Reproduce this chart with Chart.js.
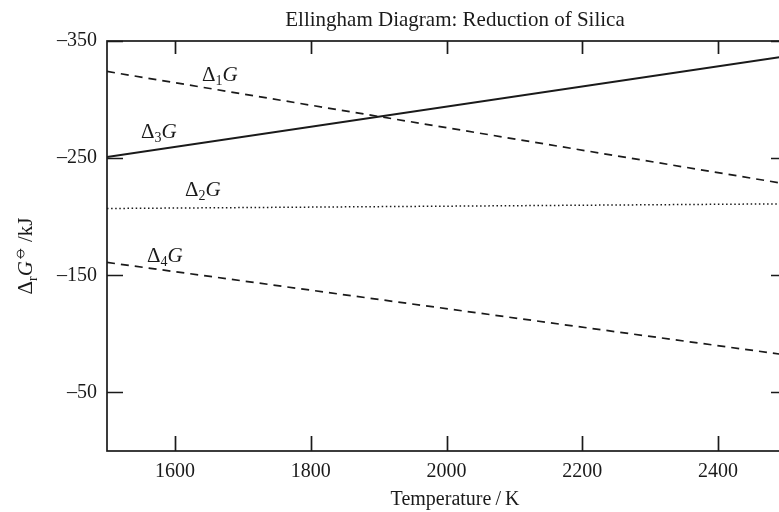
<!DOCTYPE html>
<html>
<head>
<meta charset="utf-8">
<script src="https://cdn.jsdelivr.net/npm/chart.js@4"></script>
<style>
  html, body { margin: 0; padding: 0; background: #fff; overflow: hidden; }
  canvas { display: block; }
</style>
</head>
<body>
<canvas id="ellingham" width="800" height="512"></canvas>
<script>
// Temperatures (K) at the ends of each line
const temps = [1500, 2500];

// Gibbs energy values (kJ) at those temperatures
const dG1 = [-324, -228];
const dG2 = [-207, -211];
const dG3 = [-251, -337];
const dG4 = [-161, -82];

// Tick labels
const xTicks = [1600, 1800, 2000, 2200, 2400];
const yTicks = [-350, -250, -150, -50];

// Line labels: subscript index and anchor (T, value) at the text's left baseline
const labelIdx = ['1', '2', '3', '4'];
const labelT = [1640, 1615, 1550, 1559];
const labelV = [-316, -218, -267, -161];

const FONT = '"Liberation Serif", "DejaVu Serif", serif';

function pts(vals) {
    return temps.map((t, i) => ({ x: t, y: vals[i] }));
}

const black = '#1a1a1a';

const frameTicks = {
    id: 'frameTicks',
    afterDraw(chart) {
        const ctx = chart.ctx;
        const a = chart.chartArea;
        const xs = chart.scales.x, ys = chart.scales.y;
        ctx.save();
        ctx.strokeStyle = black;
        ctx.lineWidth = 1.7;
        ctx.strokeRect(a.left, a.top, a.right - a.left, a.bottom - a.top);
        ctx.beginPath();
        xTicks.forEach(t => {
            const px = Math.round(xs.getPixelForValue(t)) + 0.5;
            ctx.moveTo(px, a.bottom); ctx.lineTo(px, a.bottom - 15);
            ctx.moveTo(px, a.top); ctx.lineTo(px, a.top + 13);
        });
        yTicks.forEach(v => {
            const py = Math.round(ys.getPixelForValue(v)) + 0.5;
            ctx.moveTo(a.left, py); ctx.lineTo(a.left + 16, py);
            ctx.moveTo(a.right, py); ctx.lineTo(a.right - 15, py);
        });
        ctx.stroke();

        // line labels
        ctx.fillStyle = black;
        ctx.textBaseline = 'alphabetic';
        labelIdx.forEach((s, i) => {
            let x = xs.getPixelForValue(labelT[i]);
            const y = ys.getPixelForValue(labelV[i]);
            ctx.font = '21px ' + FONT;
            ctx.fillText('\u0394', x, y);
            x += ctx.measureText('\u0394').width;
            ctx.font = '14px ' + FONT;
            ctx.fillText(s, x, y + 4);
            x += ctx.measureText(s).width;
            ctx.font = 'italic 21px ' + FONT;
            ctx.fillText('G', x, y);
        });

        // title
        ctx.font = '21px ' + FONT;
        ctx.textAlign = 'center';
        ctx.fillText('Ellingham Diagram: Reduction of Silica', 455, 26);

        // x title
        ctx.font = '20px ' + FONT;
        ctx.fillText('Temperature\u2009/\u2009K', 455, 505);

        // y title (rotated)
        ctx.translate(32, 256);
        ctx.rotate(-Math.PI / 2);
        ctx.textAlign = 'left';
        const parts = [
            ['\u0394', '21px ' + FONT, 0],
            ['r', '14px ' + FONT, 5],
            ['G', 'italic 21px ' + FONT, 0],
            ['\u29B5', '18px "DejaVu Sans"', -8],
            ['\u2009/kJ', '21px ' + FONT, 0]
        ];
        let w = 0;
        parts.forEach(p => { ctx.font = p[1]; w += ctx.measureText(p[0]).width; });
        let x = -w / 2;
        parts.forEach(p => {
            ctx.font = p[1];
            ctx.fillText(p[0], x, p[2]);
            x += ctx.measureText(p[0]).width;
        });
        ctx.restore();
    }
};

const lineStyle = { borderColor: black, pointRadius: 0, fill: false, tension: 0 };

new Chart(document.getElementById('ellingham'), {
    type: 'line',
    data: {
        datasets: [
            { ...lineStyle, label: 'dG1', data: pts(dG1), borderWidth: 1.7, borderDash: [8, 6] },
            { ...lineStyle, label: 'dG2', data: pts(dG2), borderWidth: 1.5, borderDash: [1.5, 2.6] },
            { ...lineStyle, label: 'dG3', data: pts(dG3), borderWidth: 2 },
            { ...lineStyle, label: 'dG4', data: pts(dG4), borderWidth: 1.7, borderDash: [8, 6] }
        ]
    },
    options: {
        responsive: false,
        animation: false,
        devicePixelRatio: 1,
        layout: { padding: { top: 41, right: 14, left: 0, bottom: 0 } },
        plugins: { legend: { display: false }, tooltip: { enabled: false }, title: { display: false } },
        scales: {
            x: {
                type: 'linear', min: 1500, max: 2500,
                grid: { display: false, drawTicks: false },
                border: { display: false },
                afterBuildTicks: s => { s.ticks = xTicks.map(v => ({ value: v })); },
                afterFit: s => { s.height = 61; },
                ticks: {
                    color: black, padding: 9, font: { family: FONT, size: 20 },
                    callback: v => String(v)
                }
            },
            y: {
                type: 'linear', min: -350, max: 0, reverse: true,
                grid: { display: false, drawTicks: false },
                border: { display: false },
                afterBuildTicks: s => { s.ticks = yTicks.map(v => ({ value: v })); },
                afterFit: s => { s.width = 107; },
                ticks: {
                    color: black, padding: 10, font: { family: FONT, size: 20 },
                    callback: v => '\u2013' + Math.abs(v)
                }
            }
        }
    },
    plugins: [frameTicks]
});
</script>
</body>
</html>
